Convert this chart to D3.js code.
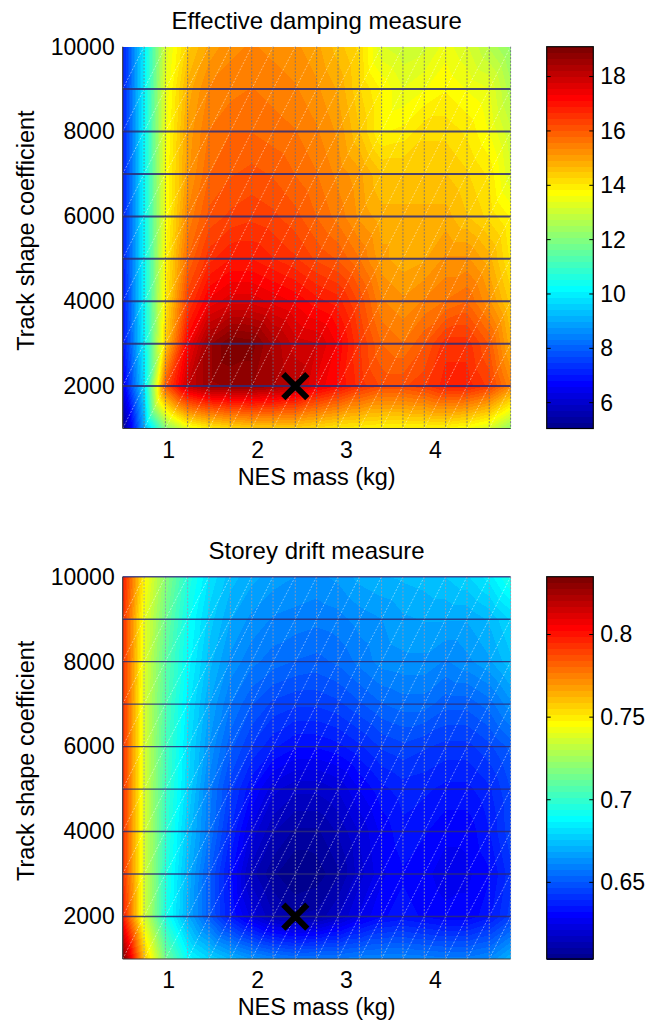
<!DOCTYPE html>
<html><head><meta charset="utf-8">
<script src="https://cdn.jsdelivr.net/npm/d3@7"></script>
<style>
body{margin:0;background:#fff}
svg{display:block}
text{font-family:"Liberation Sans",Arial,Helvetica,sans-serif;fill:#000}
</style></head>
<body><svg id="chart" width="648" height="1025"></svg>
<script>
// ---------- data ----------
const massValues = [0.49,0.73,0.97,1.22,1.46,1.70,1.94,2.18,2.43,2.67,2.91,3.15,3.40,3.64,3.88,4.12,4.36,4.61,4.85];
const trackValues = [1000,2000,3000,4000,5000,6000,7000,8000,9000,10000];
const xTickValues = [1,2,3,4];
const yTickValues = [2000,4000,6000,8000,10000];
const dampingTicks = [6,8,10,12,14,16,18];
const driftTicks = [0.65,0.7,0.75,0.8];
const optimumMass = [2.43];
const optimumTrack = [2000];
const titles = ["Effective damping measure","Storey drift measure"];
const xLabel = "NES mass (kg)";
const yLabel = "Track shape coefficient";

// rows ordered by trackValues (1000 ... 10000), columns by massValues
const damping = [
 [5.05,9.0,12.0,13.4,13.9,14.2,14.4,14.4,14.4,14.2,14.0,13.9,13.8,13.8,13.8,13.8,13.6,13.2,12.2],
 [6.4,9.8,16.0,18.0,18.6,18.7,18.7,18.5,18.2,17.5,17.1,16.6,16.2,16.2,16.4,16.8,16.8,16.4,15.4],
 [6.8,10.1,14.4,17.3,18.6,19.1,19.0,18.4,17.9,17.8,17.3,16.5,15.8,15.6,16.0,16.6,16.6,16.0,14.8],
 [6.9,10.2,14.0,16.4,17.4,17.7,17.7,17.5,17.3,17.0,16.8,16.2,15.4,15.2,15.4,15.6,15.8,15.2,14.4],
 [7.0,10.2,13.8,15.8,16.6,16.9,16.9,16.7,16.5,16.2,16.0,15.6,15.0,14.8,14.9,15.2,15.2,14.8,14.0],
 [7.0,10.2,13.6,15.4,16.1,16.3,16.4,16.3,16.1,15.8,15.5,15.1,14.8,14.8,14.8,14.8,14.5,14.2,13.8],
 [7.0,10.2,13.6,15.1,15.8,16.0,16.1,16.0,15.8,15.6,15.3,15.0,14.5,14.5,14.5,14.5,14.3,14.0,13.2],
 [7.0,10.2,13.5,15.0,15.6,15.8,15.8,15.7,15.6,15.4,15.1,14.5,13.8,13.9,14.2,14.2,14.0,13.6,13.0],
 [7.0,10.1,13.4,14.8,15.4,15.5,15.6,15.5,15.4,15.2,14.9,14.3,13.8,13.4,13.6,13.8,13.6,13.4,12.6],
 [7.0,10.0,13.2,14.4,15.0,15.3,15.4,15.3,15.2,15.0,14.6,14.2,13.2,13.0,13.1,13.5,13.2,12.7,12.2]
];
const drift = [
 [0.835,0.762,0.715,0.69,0.68,0.672,0.665,0.66,0.657,0.658,0.658,0.66,0.661,0.661,0.66,0.659,0.659,0.662,0.672],
 [0.80,0.738,0.695,0.67,0.652,0.636,0.624,0.615,0.611,0.612,0.618,0.626,0.632,0.634,0.632,0.63,0.63,0.635,0.645],
 [0.795,0.738,0.697,0.672,0.652,0.634,0.616,0.608,0.6036,0.605,0.61,0.62,0.628,0.632,0.63,0.627,0.628,0.632,0.642],
 [0.795,0.738,0.70,0.676,0.658,0.64,0.624,0.615,0.61,0.61,0.615,0.622,0.63,0.635,0.633,0.63,0.63,0.636,0.646],
 [0.795,0.738,0.703,0.68,0.66,0.645,0.633,0.623,0.619,0.619,0.622,0.629,0.635,0.638,0.637,0.635,0.635,0.639,0.647],
 [0.795,0.738,0.705,0.682,0.665,0.652,0.643,0.637,0.633,0.633,0.635,0.639,0.644,0.646,0.644,0.642,0.642,0.646,0.652],
 [0.795,0.738,0.707,0.685,0.669,0.658,0.651,0.646,0.644,0.644,0.646,0.65,0.654,0.656,0.656,0.652,0.652,0.656,0.664],
 [0.795,0.74,0.71,0.689,0.674,0.664,0.659,0.656,0.654,0.653,0.655,0.659,0.663,0.664,0.664,0.661,0.664,0.668,0.675],
 [0.795,0.742,0.714,0.692,0.678,0.669,0.664,0.661,0.66,0.659,0.66,0.663,0.665,0.668,0.669,0.669,0.669,0.673,0.68],
 [0.80,0.748,0.72,0.697,0.683,0.674,0.67,0.667,0.665,0.664,0.666,0.67,0.672,0.673,0.674,0.676,0.679,0.685,0.695]
];

// ---------- MATLAB jet colormap ----------
function jetColormap(n){
  const m = Math.ceil(n/4), u = [];
  for(let i=1;i<=m;i++) u.push(i/m);
  for(let i=1;i<m;i++) u.push(1);
  for(let i=m;i>=1;i--) u.push(i/m);
  const g0 = Math.ceil(m/2) - (n%4===1?1:0);
  const cols = Array.from({length:n},()=>[0,0,0]);
  u.forEach((val,k)=>{
    const g = g0 + k + 1, r = g + m, b = g - m;
    if (r>=1 && r<=n) cols[r-1][0] = val;
    if (g>=1 && g<=n) cols[g-1][1] = val;
    if (b>=1 && b<=n) cols[b-1][2] = val;
  });
  return cols.map(c=>d3.rgb(c[0]*255,c[1]*255,c[2]*255).formatHex());
}
const jet = jetColormap(64);

const svg = d3.select("#chart");
const TICKFONT = 23, LABELFONT = 23.5, TITLEFONT = 24;

function panel(cfg){
  const {values, top, bottom, title, cbTicks, cbFormat, titleY} = cfg;
  const x = d3.scaleLinear().domain(d3.extent(massValues)).range([122.7, 510.6]);
  const y = d3.scaleLinear().domain(d3.extent(trackValues)).range([bottom, top]);
  const flat = values.flat();
  const cmin = d3.min(flat), cmax = d3.max(flat);
  const nC = jet.length;
  const cidx = v => Math.max(0, Math.min(nC-1, Math.floor((v-cmin)/(cmax-cmin)*nC)));
  const g = svg.append("g");

  // raster of interpolated (triangulated) surface, quantized to colormap
  const px0 = Math.round(x.range()[0]), px1 = Math.round(x.range()[1]);
  const py0 = Math.round(top), py1 = Math.round(bottom);
  const paths = Array.from({length:nC},()=>[]);
  const nx = massValues.length, ny = trackValues.length;
  for (let py=py0; py<py1; py++){
    const ty = y.invert(py+0.5);
    let j = Math.max(0, Math.min(ny-2, d3.bisectRight(trackValues, ty)-1));
    const t = Math.max(0, Math.min(1, (ty-trackValues[j])/(trackValues[j+1]-trackValues[j])));
    let runStart = px0, runC = -1;
    for (let px=px0; px<=px1; px++){
      let c = -1;
      if (px<px1){
        const tx = x.invert(px+0.5);
        let i = Math.max(0, Math.min(nx-2, d3.bisectRight(massValues, tx)-1));
        const u = Math.max(0, Math.min(1, (tx-massValues[i])/(massValues[i+1]-massValues[i])));
        const z00 = values[j][i], z10 = values[j][i+1], z01 = values[j+1][i], z11 = values[j+1][i+1];
        const v = u > t ? z00 + u*(z10-z00) + t*(z11-z10) : z00 + t*(z01-z00) + u*(z11-z01);
        c = cidx(v);
      }
      if (c !== runC){
        if (runC>=0) paths[runC].push(`M${runStart},${py}h${px-runStart}v1h${runStart-px}z`);
        runStart = px; runC = c;
      }
    }
  }
  g.append("g").attr("shape-rendering","crispEdges")
    .selectAll("path").data(paths.map((p,k)=>({d:p.join(""),k})).filter(d=>d.d.length))
    .join("path").attr("d",d=>d.d).attr("fill",d=>jet[d.k]);

  // mesh: diagonals
  const cells = [];
  for (let j=0;j<ny-1;j++) for (let i=0;i<nx-1;i++) cells.push({i,j});
  g.append("g").selectAll("line").data(cells).join("line")
    .attr("x1",d=>x(massValues[d.i])).attr("y1",d=>y(trackValues[d.j]))
    .attr("x2",d=>x(massValues[d.i+1])).attr("y2",d=>y(trackValues[d.j+1]))
    .attr("stroke","#fff").attr("stroke-opacity",0.55).attr("stroke-width",0.8)
    .attr("stroke-dasharray","2,1.5");
  // mesh: vertical lines
  g.append("g").selectAll("line").data(massValues.slice(1)).join("line")
    .attr("x1",d=>x(d)).attr("x2",d=>x(d)).attr("y1",top).attr("y2",bottom)
    .attr("stroke",cfg.vColor).attr("stroke-opacity",0.85).attr("stroke-width",1)
    .attr("stroke-dasharray","2,1.5");
  // mesh: horizontal lines
  g.append("g").selectAll("line").data(trackValues.slice(1, cfg.topLine ? ny : ny-1)).join("line")
    .attr("x1",x.range()[0]).attr("x2",x.range()[1]).attr("y1",d=>y(d)).attr("y2",d=>y(d))
    .attr("stroke","#2b2b78").attr("stroke-opacity",0.85).attr("stroke-width",cfg.hWidth);

  // axis lines (left & bottom)
  g.append("line").attr("x1",x.range()[0]).attr("x2",x.range()[0]).attr("y1",top).attr("y2",bottom)
    .attr("stroke","#3a3a3a").attr("stroke-width",1.2);
  g.append("line").attr("x1",x.range()[0]).attr("x2",x.range()[1]).attr("y1",bottom).attr("y2",bottom)
    .attr("stroke","#3a3a3a").attr("stroke-width",1.2);

  // optimum marker
  g.append("g").selectAll("path").data(optimumMass.map((m,k)=>({m,t:optimumTrack[k]}))).join("path")
    .attr("d",d=>{const cx=x(d.m), cy=y(d.t), a=12; return `M${cx-a},${cy-a}L${cx+a},${cy+a}M${cx-a},${cy+a}L${cx+a},${cy-a}`;})
    .attr("stroke","#000").attr("stroke-width",6).attr("fill","none");

  // tick labels
  const ax = g.append("g").attr("transform",`translate(0,${bottom})`)
    .call(d3.axisBottom(x).tickValues(xTickValues).tickSize(0).tickPadding(13).tickFormat(d3.format("d")));
  ax.select(".domain").remove();
  ax.selectAll("text").attr("font-size",TICKFONT).attr("font-family",null);
  const ay = g.append("g").attr("transform",`translate(${x.range()[0]},0)`)
    .call(d3.axisLeft(y).tickValues(yTickValues).tickSize(0).tickPadding(8).tickFormat(d3.format("d")));
  ay.select(".domain").remove();
  ay.selectAll("text").attr("font-size",TICKFONT).attr("font-family",null);

  // labels
  g.append("text").attr("x",(x.range()[0]+x.range()[1])/2).attr("y",bottom+56)
    .attr("text-anchor","middle").attr("font-size",LABELFONT).text(xLabel);
  g.append("text").attr("transform",`translate(34,${(top+bottom)/2-7}) rotate(-90)`)
    .attr("text-anchor","middle").attr("font-size",LABELFONT).text(yLabel);
  g.append("text").attr("x",(x.range()[0]+x.range()[1])/2).attr("y",titleY)
    .attr("text-anchor","middle").attr("font-size",TITLEFONT).text(title);

  // colorbar
  const cbx0 = 546.7, cbx1 = 593.3;
  const cy = d3.scaleLinear().domain([cmin,cmax]).range([bottom, top]);
  const step = (cmax-cmin)/nC;
  g.append("g").attr("shape-rendering","crispEdges").selectAll("rect").data(jet).join("rect")
    .attr("x",cbx0).attr("width",cbx1-cbx0)
    .attr("y",(c,k)=>cy(cmin+(k+1)*step)).attr("height",(c,k)=>cy(cmin+k*step)-cy(cmin+(k+1)*step)+0.5)
    .attr("fill",c=>c);
  g.append("rect").attr("x",cbx0).attr("y",top).attr("width",cbx1-cbx0).attr("height",bottom-top)
    .attr("fill","none").attr("stroke","#000").attr("stroke-width",1.2);
  const tk = g.append("g").selectAll("g").data(cbTicks).join("g");
  tk.append("line").attr("x1",cbx0).attr("x2",cbx0+4).attr("y1",d=>cy(d)).attr("y2",d=>cy(d)).attr("stroke","#000");
  tk.append("line").attr("x1",cbx1-4).attr("x2",cbx1).attr("y1",d=>cy(d)).attr("y2",d=>cy(d)).attr("stroke","#000");
  const ac = g.append("g").attr("transform",`translate(${cbx1},0)`)
    .call(d3.axisRight(cy).tickValues(cbTicks).tickSize(0).tickPadding(7).tickFormat(cbFormat));
  ac.select(".domain").remove();
  ac.selectAll("text").attr("font-size",TICKFONT).attr("font-family",null);
}

panel({values:damping, top:46.7, bottom:428.5, title:titles[0], titleY:29,
       cbTicks:dampingTicks, cbFormat:d3.format("d"), topLine:false, hWidth:2, vColor:"#6f6f80"});
panel({values:drift, top:576.7, bottom:959, title:titles[1], titleY:559,
       cbTicks:driftTicks, cbFormat:d=>String(d), topLine:true, hWidth:1.4, vColor:"#9a9ab0"});
</script></body></html>
